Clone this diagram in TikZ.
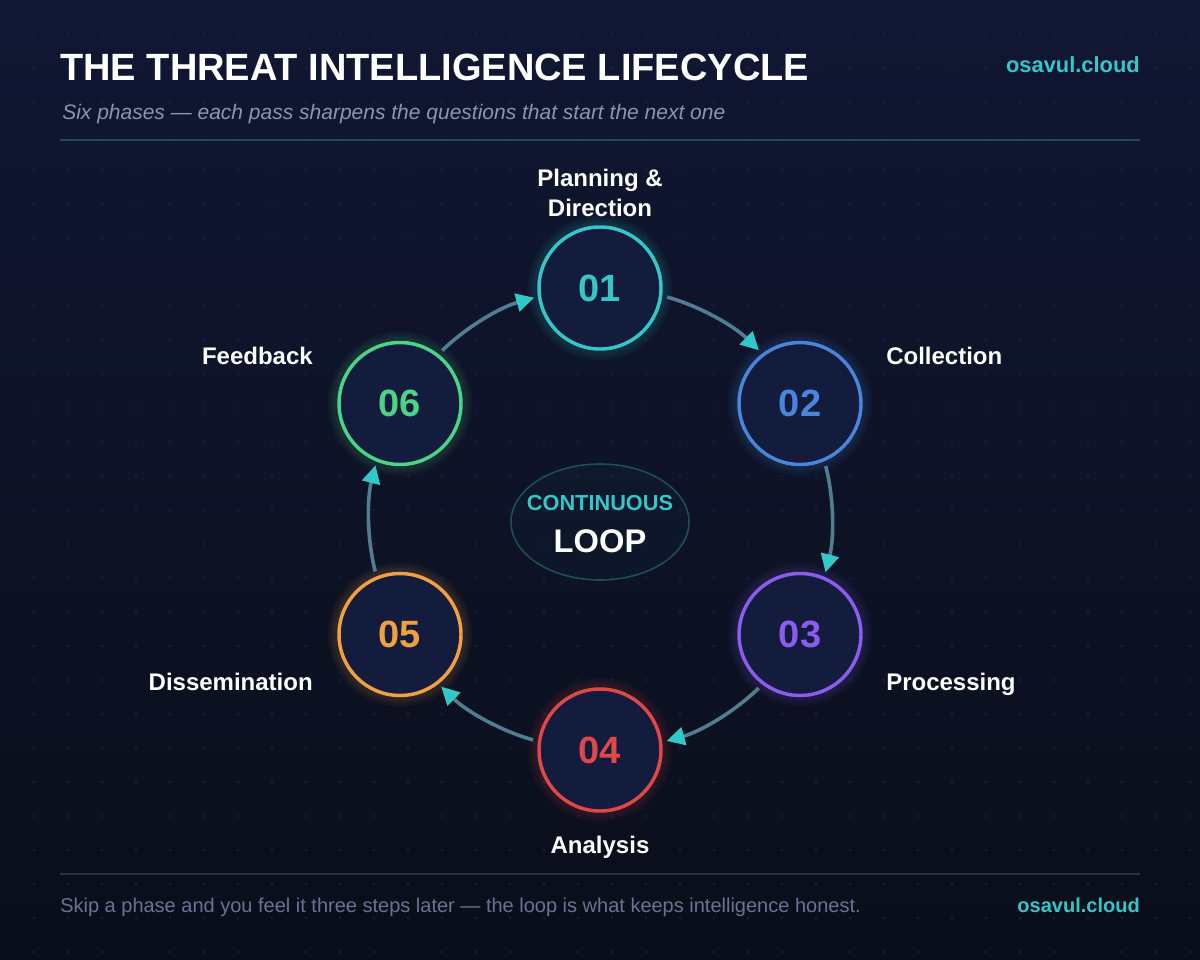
\documentclass[tikz,border=0pt]{standalone}
\usepackage{fontspec}
\setmainfont{Liberation Sans}
\usetikzlibrary{arrows.meta,shapes.geometric}
\definecolor{bgtop}{HTML}{111733}
\definecolor{bgbot}{HTML}{0A0E1A}
\definecolor{dotc}{HTML}{1E2746}
\definecolor{cyanA}{HTML}{35C6C8}
\definecolor{blueA}{HTML}{4A85DC}
\definecolor{purpA}{HTML}{8B5CF0}
\definecolor{redA}{HTML}{E04848}
\definecolor{orgA}{HTML}{F0A040}
\definecolor{grnA}{HTML}{4CD486}
\definecolor{nodefill}{HTML}{141C3E}
\definecolor{subc}{HTML}{8C94B4}
\definecolor{footc}{HTML}{6B7394}
\definecolor{flowc}{HTML}{4F7E90}
\definecolor{tipc}{HTML}{30C8C8}
\definecolor{rulec}{HTML}{1D4A5E}
\definecolor{rulefc}{HTML}{1A3642}
\definecolor{ellc}{HTML}{1D4D5C}
\tikzset{
  phase/.style={circle, draw=#1, line width=2.6pt, fill=nodefill, text=#1,
    minimum size=91.5pt, inner sep=0pt,
    font=\fontsize{28.5}{32}\selectfont\bfseries},
  lbl/.style={text=white, inner sep=0pt, font=\fontsize{18}{22.5}\selectfont\bfseries},
  flow/.style={draw=flowc, line width=2.7pt, shorten <=3.75pt, shorten >=3pt,
    -{Triangle[length=13.5pt,width=13.5pt,color=tipc]}},
  txt/.style={inner sep=0pt}
}
\begin{document}
\begin{tikzpicture}[x=0.75pt,y=0.75pt]
\useasboundingbox (0,0) rectangle (1200,-960);
\shade[top color=bgtop,bottom color=bgbot] (0,0) rectangle (1200,-960);
\foreach \i in {1,...,35} \foreach \j in {1,...,28} \fill[dotc] (34*\i,-34*\j) circle (1.2);

% header
\node[txt, anchor=base west, text=white, font=\fontsize{28.5}{34}\selectfont\bfseries] (title) at (60,-80) {THE THREAT INTELLIGENCE LIFECYCLE};
\node[txt, anchor=base west, text=subc, font=\fontsize{15.75}{18}\selectfont\itshape] (subtitle) at (62,-119) {Six phases — each pass sharpens the questions that start the next one};
\node[txt, anchor=base east, text=cyanA, font=\fontsize{16.4}{18}\selectfont\bfseries] (brand) at (1140,-72) {osavul.cloud};
\draw[rulec, line width=1.5pt] (60,-140) -- (1140,-140);

% positions
\coordinate (c1) at (600,-288);
\coordinate (c2) at (800,-403.5);
\coordinate (c3) at (800,-634.5);
\coordinate (c4) at (600,-750);
\coordinate (c5) at (400,-634.5);
\coordinate (c6) at (400,-403.5);

% glow
\foreach \c/\k in {c1/cyanA,c2/blueA,c3/purpA,c4/redA,c5/orgA,c6/grnA}{
  \foreach \w in {20,14,9}
    \draw[\k, opacity=0.05, line width=\w*0.75pt] (\c) circle (62);
}

% center ellipse
\node[ellipse, draw=ellc, line width=1.2pt, fill=cyanA, fill opacity=0.03,
  minimum width=133.5pt, minimum height=87pt] (loop) at (600,-522) {};
\node[txt, text=cyanA, font=\fontsize{16.3}{18}\selectfont\bfseries] (cont) at (600,-503) {CONTINUOUS};
\node[txt, text=white, font=\fontsize{24.5}{28}\selectfont\bfseries] (looptxt) at (600,-541) {LOOP};

% phases
\node[phase=cyanA] (p1) at (c1) {01};
\node[phase=blueA] (p2) at (c2) {02};
\node[phase=purpA] (p3) at (c3) {03};
\node[phase=redA]  (p4) at (c4) {04};
\node[phase=orgA]  (p5) at (c5) {05};
\node[phase=grnA]  (p6) at (c6) {06};

% connectors: arcs on the ring through the phase centres
\draw[flow] (p1.-7.8)   arc[start angle=74.4,   end angle=45.6,   radius=231];
\draw[flow] (p2.-67.8)  arc[start angle=14.4,   end angle=-14.4,  radius=231];
\draw[flow] (p3.-127.8) arc[start angle=-45.6,  end angle=-74.4,  radius=231];
\draw[flow] (p4.172.2)  arc[start angle=-105.6, end angle=-134.4, radius=231];
\draw[flow] (p5.112.2)  arc[start angle=-165.6, end angle=-194.4, radius=231];
\draw[flow] (p6.52.2)   arc[start angle=134.4,  end angle=105.6,  radius=231];

% labels
\node[lbl, align=center, anchor=base] (l1) at (600,-216) {Planning \&\\Direction};
\node[lbl, anchor=base west] (l2) at (886,-364) {Collection};
\node[lbl, anchor=base west] (l3) at (886,-690) {Processing};
\node[lbl, anchor=base] (l4) at (600,-853) {Analysis};
\node[lbl, anchor=base east] (l5) at (313,-690) {Dissemination};
\node[lbl, anchor=base east] (l6) at (313,-364) {Feedback};

% footer
\draw[rulefc, line width=1.5pt] (60,-874) -- (1140,-874);
\node[txt, anchor=base west, text=footc, font=\fontsize{15}{18}\selectfont] (foot) at (60,-912) {Skip a phase and you feel it three steps later — the loop is what keeps intelligence honest.};
\node[txt, anchor=base east, text=cyanA, font=\fontsize{15}{18}\selectfont\bfseries] (brand2) at (1140,-912) {osavul.cloud};
\end{tikzpicture}
\end{document}
